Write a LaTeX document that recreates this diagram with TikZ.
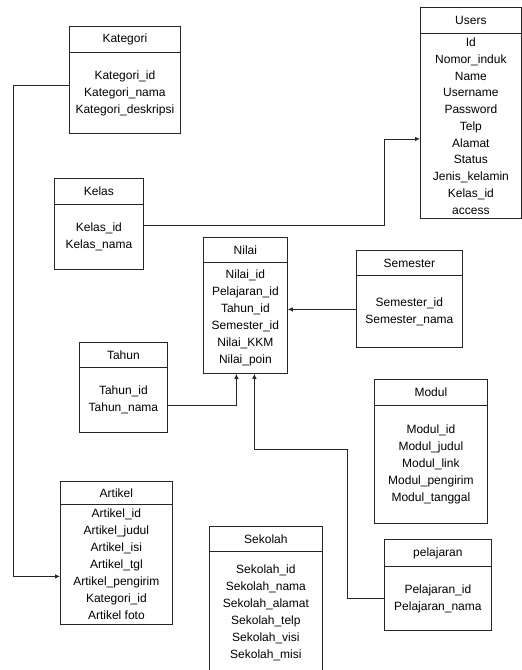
\documentclass[tikz,border=0pt]{standalone}
\usepackage{fontspec}
\setmainfont{Liberation Sans}
\usetikzlibrary{arrows.meta}
\begin{document}
\begin{tikzpicture}[x=1pt,y=1pt,
  box/.style={draw=black!85, line width=0.8pt, anchor=north west, inner sep=0pt,
    align=center, font=\fontsize{12}{17}\selectfont},
  arr/.style={draw=black!85, line width=0.8pt, -{Latex[length=5pt,width=4.5pt]}},
  conn/.style={draw=black!85, line width=0.8pt}]
\useasboundingbox (0,0) rectangle (522,-670);
% Kategori
\node[box, minimum width=111pt, minimum height=26pt] (kath) at (69,-26) {Kategori};
\node[box, minimum width=111pt, minimum height=81pt] (katb) at (69,-52) {Kategori\_id\\Kategori\_nama\\Kategori\_deskripsi};
% Kelas
\node[box, minimum width=89pt, minimum height=26pt] (kelh) at (54,-178) {Kelas};
\node[box, minimum width=89pt, minimum height=65pt] (kelb) at (54,-204) {Kelas\_id\\Kelas\_nama};
% Users
\node[box, minimum width=101pt, minimum height=26pt] (usrh) at (420,-7) {Users};
\node[box, minimum width=101pt, minimum height=185pt] (usrb) at (420,-33) {};
\node[anchor=north, inner sep=0pt, align=center, font=\fontsize{12}{16.8}\selectfont] (usrt) at ([yshift=-4.5pt]usrb.north) {Id\\Nomor\_induk\\Name\\Username\\Password\\Telp\\Alamat\\Status\\Jenis\_kelamin\\Kelas\_id\\access};
% Nilai
\node[box, minimum width=84pt, minimum height=25pt] (nilh) at (203,-237) {Nilai};
\node[box, minimum width=84pt, minimum height=111pt] (nilb) at (203,-262) {Nilai\_id\\Pelajaran\_id\\Tahun\_id\\Semester\_id\\Nilai\_KKM\\Nilai\_poin};
% Semester
\node[box, minimum width=106pt, minimum height=25pt] (semh) at (356,-250) {Semester};
\node[box, minimum width=106pt, minimum height=72pt] (semb) at (356,-275) {Semester\_id\\Semester\_nama};
% Tahun
\node[box, minimum width=88pt, minimum height=25pt] (tahh) at (79,-342) {Tahun};
\node[box, minimum width=88pt, minimum height=65pt] (tahb) at (79,-367) {Tahun\_id\\Tahun\_nama};
% Modul
\node[box, minimum width=113pt, minimum height=26pt] (modh) at (374,-379) {Modul};
\node[box, minimum width=113pt, minimum height=118pt] (modb) at (374,-405) {Modul\_id\\Modul\_judul\\Modul\_link\\Modul\_pengirim\\Modul\_tanggal};
% pelajaran
\node[box, minimum width=107pt, minimum height=27pt] (pelh) at (384,-539) {pelajaran};
\node[box, minimum width=107pt, minimum height=64pt] (pelb) at (384,-566) {Pelajaran\_id\\Pelajaran\_nama};
% Artikel
\node[box, minimum width=112pt, minimum height=23pt] (arth) at (60,-481) {Artikel};
\node[box, minimum width=112pt, minimum height=120pt] (artb) at (60,-504) {Artikel\_id\\Artikel\_judul\\Artikel\_isi\\Artikel\_tgl\\Artikel\_pengirim\\Kategori\_id\\Artikel foto};
% Sekolah
\node[box, minimum width=113pt, minimum height=25pt] (sekh) at (209,-526) {Sekolah};
\node[box, minimum width=113pt, minimum height=122pt] (sekb) at (209,-551) {Sekolah\_id\\Sekolah\_nama\\Sekolah\_alamat\\Sekolah\_telp\\Sekolah\_visi\\Sekolah\_misi};
% connectors
\draw[arr] ([yshift=7.5pt]katb.west) -- ++(-56,0) |- ([yshift=-12pt]artb.west);
\draw[arr] ([yshift=12pt]kelb.east) -- ++(241,0) |- ([yshift=-13pt]usrb.west);
\draw[arr] ([yshift=2pt]semb.west) -- ([yshift=2pt]semb.west -| nilb.east);
\draw[arr] ([yshift=-5.5pt]tahb.east) -| ([xshift=-9pt]nilb.south);
\draw[arr] (pelb.west) -- ++(-37,0) -- ++(0,149) -| ([xshift=9pt]nilb.south);
\end{tikzpicture}
\end{document}
